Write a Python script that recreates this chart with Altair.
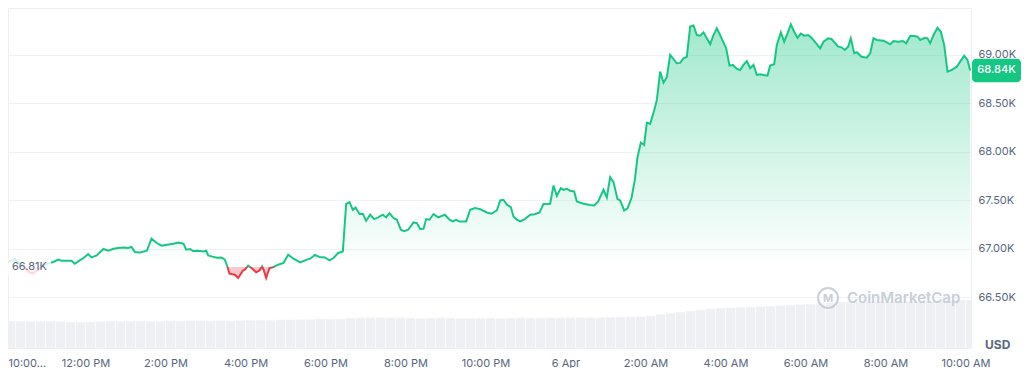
import altair as alt
import pandas as pd

# minutes after 10:00 AM (5 Apr)
TIMES = [0, 4, 14, 25, 34, 41, 49, 58, 67, 72,
         79, 84, 92, 99, 104, 109, 117, 124, 129, 137,
         142, 147, 154, 162, 169, 177, 184, 189, 194, 202,
         212, 219, 227, 234, 242, 252, 259, 267, 271, 277,
         281, 289, 297, 301, 304, 309, 317, 324, 329, 333,
         336, 344, 349, 356, 359, 364, 369, 376, 381, 385,
         388, 391, 396, 402, 409, 417, 424, 432, 442, 452,
         457, 464, 471, 479, 486, 492, 499, 506, 511, 516,
         521, 525, 531, 536, 541, 547, 553, 559, 566, 571,
         576, 582, 587, 593, 598, 604, 612, 617, 622, 627,
         631, 636, 642, 649, 659, 666, 671, 676, 681, 691,
         697, 704, 712, 722, 729, 737, 742, 747, 752, 758,
         762, 767, 772, 779, 787, 794, 801, 807, 817, 822,
         827, 833, 837, 842, 847, 853, 857, 867, 877, 883,
         889, 897, 902, 907, 912, 918, 922, 928, 933, 939,
         944, 948, 953, 958, 962, 967, 973, 977, 982, 987,
         992, 997, 1007, 1012, 1017, 1022, 1027, 1032, 1037, 1042,
         1047, 1052, 1057, 1062, 1067, 1073, 1081, 1086, 1091, 1097,
         1102, 1107, 1112, 1117, 1122, 1127, 1132, 1137, 1143, 1147,
         1153, 1157, 1163, 1168, 1172, 1178, 1183, 1188, 1193, 1198,
         1204, 1209, 1216, 1222, 1227, 1234, 1239, 1249, 1254, 1259,
         1264, 1268, 1273, 1277, 1284, 1292, 1297, 1302, 1307, 1317,
         1322, 1327, 1332, 1339, 1346, 1351, 1357, 1363, 1368, 1372,
         1379, 1383, 1387, 1392, 1398, 1403, 1408, 1413, 1419, 1427,
         1432, 1438, 1443, 1447]

PRICES = [66825, 66866, 66887, 66835, 66763, 66742, 66784, 66825, 66856, 66863,
          66887, 66876, 66876, 66876, 66845, 66869, 66904, 66945, 66910, 66931,
          66966, 66997, 66979, 67000, 67007, 67013, 67007, 67018, 66966, 66962,
          66979, 67103, 67059, 67031, 67041, 67052, 67065, 67052, 66990, 66997,
          66976, 66979, 66972, 66979, 66931, 66921, 66907, 66910, 66887, 66811,
          66742, 66732, 66698, 66773, 66784, 66825, 66801, 66756, 66776, 66818,
          66766, 66698, 66801, 66811, 66835, 66853, 66938, 66897, 66859, 66887,
          66897, 66935, 66915, 66910, 66879, 66904, 66956, 66972, 67464, 67482,
          67402, 67426, 67358, 67361, 67289, 67351, 67306, 67323, 67351, 67323,
          67368, 67317, 67299, 67196, 67182, 67196, 67271, 67265, 67203, 67206,
          67306, 67299, 67358, 67323, 67351, 67299, 67282, 67299, 67282, 67282,
          67402, 67420, 67409, 67374, 67361, 67395, 67498, 67505, 67454, 67430,
          67333, 67299, 67282, 67306, 67351, 67356, 67374, 67461, 67464, 67653,
          67546, 67626, 67608, 67619, 67598, 67591, 67488, 67464, 67451, 67446,
          67488, 67608, 67529, 67739, 67688, 67512, 67498, 67395, 67416, 67523,
          67711, 67945, 68096, 68072, 68302, 68289, 68426, 68536, 68828, 68714,
          68770, 69000, 68914, 68918, 68966, 68982, 69294, 69304, 69206, 69199,
          69234, 69172, 69110, 69206, 69275, 69189, 69069, 68890, 68897, 68856,
          68845, 68897, 68938, 68863, 68897, 68794, 68801, 68794, 68787, 68890,
          68904, 69103, 69234, 69137, 69206, 69316, 69240, 69178, 69220, 69199,
          69206, 69178, 69121, 69069, 69137, 69172, 69165, 69086, 69079, 69052,
          69086, 69172, 69018, 69028, 68982, 68972, 69018, 69172, 69155, 69147,
          69131, 69110, 69144, 69137, 69144, 69121, 69196, 69196, 69189, 69155,
          69178, 69172, 69121, 69206, 69281, 69240, 69103, 68828, 68845, 68879,
          68931, 68993, 68948, 68840]

# 24h volume (billions USD), one bar per 15 minutes
VOLUME = [17.5, 17.5, 17.4, 17.5, 17.5, 17.3, 16.9, 16.8, 17.0, 17.2,
          17.4, 17.3, 17.5, 17.6, 17.4, 17.5, 17.7, 17.6, 17.8, 17.7,
          17.6, 17.8, 17.7, 17.9, 18.0, 18.1, 18.0, 18.3, 18.4, 18.5,
          18.6, 18.8, 18.7, 18.9, 19.3, 19.5, 19.6, 19.7, 19.6, 19.5,
          19.4, 19.3, 19.4, 19.5, 19.4, 19.3, 19.2, 19.3, 19.4, 19.3,
          19.4, 19.5, 19.4, 19.6, 19.5, 19.5, 19.6, 19.7, 19.7, 19.8,
          19.9, 20.1, 20.2, 20.4, 20.9, 21.8, 22.5, 23.3, 24.0, 24.7,
          25.4, 25.8, 26.1, 26.4, 26.6, 26.9, 27.2, 27.5, 27.8, 28.2,
          28.5, 29.0, 29.5, 29.9, 30.0, 30.1, 30.1, 30.2, 30.1, 30.2,
          30.3, 30.2, 30.3, 30.5, 30.9, 31.1, 31.1]
BAR_MINUTES = 15

TICK_MINUTES = [3.75, 120, 240, 360, 480, 600, 720, 840, 960, 1080, 1200, 1320, 1440]
TICK_LABELS = ["10:00...", "12:00 PM", "2:00 PM", "4:00 PM", "6:00 PM", "8:00 PM",
               "10:00 PM", "6 Apr", "2:00 AM", "4:00 AM", "6:00 AM", "8:00 AM", "10:00 AM"]
PRICE_TICKS = [66500, 67000, 67500, 68000, 68500, 69000]

BASE = 66810
LAST = PRICES[-1]

GREEN = "#16c784"
RED = "#ea3943"
TXT = "#58667e"
WM = "#c9ced7"

n = min(len(TIMES), len(PRICES))
df = pd.DataFrame({"t": TIMES[:n], "p": PRICES[:n]})
vdf = pd.DataFrame({
    "s": [i * BAR_MINUTES for i in range(len(VOLUME))],
    "e": [(i + 1) * BAR_MINUTES for i in range(len(VOLUME))],
    "v": VOLUME,
})
one = pd.DataFrame({"a": [0]})

pmax, pmin = max(PRICES), min(PRICES)
f = (pmax - BASE) / (pmax - pmin)

xscale = alt.Scale(domain=[3.75, 1448.25], nice=False, zero=False)
yscale = alt.Scale(domain=[65975, 69485], nice=False, zero=False)

labels_js = "[" + ",".join("'" + s + "'" for s in TICK_LABELS) + "]"
xaxis = alt.Axis(values=TICK_MINUTES, labelExpr=labels_js + "[round(datum.value / 120)]",
                 title=None, grid=False, ticks=False, tickSize=0, domain=False,
                 labelFlush=True, labelOverlap=False, labelPadding=9,
                 labelFontSize=11, labelColor=TXT, labelFont="Inter")
yaxis = alt.Axis(orient="right", values=PRICE_TICKS,
                 labelExpr="format(datum.value / 1000, '.2f') + 'K'",
                 title=None, grid=True, gridColor="#eff2f5", ticks=False, tickSize=0,
                 domain=False, labelPadding=7, labelFontSize=11, labelColor=TXT,
                 labelFlush=False, labelFont="Inter")

line_grad = alt.Gradient(gradient="linear", x1=0, x2=0, y1=0, y2=1, stops=[
    alt.GradientStop(color=GREEN, offset=0),
    alt.GradientStop(color=GREEN, offset=f),
    alt.GradientStop(color=RED, offset=f),
    alt.GradientStop(color=RED, offset=1),
])
area_grad = alt.Gradient(gradient="linear", x1=0, x2=0, y1=0, y2=1, stops=[
    alt.GradientStop(color="rgba(22,199,132,0.40)", offset=0),
    alt.GradientStop(color="rgba(22,199,132,0.0)", offset=f),
    alt.GradientStop(color="rgba(234,57,67,0.28)", offset=f),
    alt.GradientStop(color="rgba(234,57,67,0.28)", offset=1),
])

vol = alt.Chart(vdf).mark_rect(fill="#eef0f4", stroke="white", strokeWidth=0.6,
                               strokeOpacity=0.7, clip=True).encode(
    x=alt.X("s:Q", scale=xscale, axis=xaxis),
    x2="e:Q",
    y=alt.Y("v:Q", scale=alt.Scale(domain=[0, 220], nice=False), axis=None),
    y2=alt.datum(0),
)

area = alt.Chart(df).mark_area(fill=area_grad, clip=True).encode(
    x=alt.X("t:Q", scale=xscale, axis=xaxis),
    y=alt.Y("p:Q", scale=yscale, axis=yaxis),
    y2=alt.datum(BASE),
)
line = alt.Chart(df).mark_line(stroke=line_grad, strokeWidth=2, clip=True).encode(
    x=alt.X("t:Q", scale=xscale, axis=xaxis),
    y=alt.Y("p:Q", scale=yscale, axis=yaxis),
)

wm_text = alt.Chart(one).mark_text(align="left", baseline="middle", fontSize=15,
                                   fontWeight=600, color=WM, font="Inter").encode(
    x=alt.value(839), y=alt.value(290), text=alt.value("CoinMarketCap"))
wm_circle = alt.Chart(one).mark_point(shape="circle", filled=False, size=400,
                                      strokeWidth=2, color=WM, opacity=1).encode(
    x=alt.value(820), y=alt.value(290))
wm_m = alt.Chart(one).mark_text(align="center", baseline="middle", fontSize=11,
                                fontWeight=700, color=WM, font="Inter").encode(
    x=alt.value(820), y=alt.value(291), text=alt.value("M"))

base_bg = alt.Chart(one).mark_rect(color="white", opacity=0.8).encode(
    x=alt.value(0), x2=alt.value(43),
    y=alt.YDatum(BASE + 85, scale=yscale, axis=yaxis), y2=alt.datum(BASE - 85))
base_txt = alt.Chart(one).mark_text(align="left", baseline="middle", fontSize=11,
                                    color=TXT, font="Inter").encode(
    x=alt.value(4), y=alt.YDatum(BASE, scale=yscale, axis=yaxis),
    text=alt.value(f"{BASE / 1000:.2f}K"))

box = alt.Chart(one).mark_rect(color=GREEN, cornerRadius=4).encode(
    x=alt.value(964), x2=alt.value(1013),
    y=alt.YDatum(LAST + 122, scale=yscale, axis=yaxis), y2=alt.datum(LAST - 122))
box_txt = alt.Chart(one).mark_text(align="center", baseline="middle", fontSize=11,
                                   fontWeight=500, color="white", font="Inter").encode(
    x=alt.value(988.5), y=alt.YDatum(LAST, scale=yscale, axis=yaxis),
    text=alt.value(f"{LAST / 1000:.2f}K"))

usd = alt.Chart(one).mark_text(align="left", baseline="middle", fontSize=12,
                               fontWeight=700, color=TXT, font="Inter").encode(
    x=alt.value(977), y=alt.value(337), text=alt.value("USD"))

price_layers = alt.layer(area, line, wm_circle, wm_m, wm_text, base_bg, base_txt,
                         box, box_txt, usd)

chart = alt.layer(vol, price_layers).resolve_scale(y="independent").properties(
    width=963, height=340, padding=0
).configure(font="Inter").configure_view(stroke="#eceef2")

chart.save("out.html", embed_options={"renderer": "svg", "actions": False})
